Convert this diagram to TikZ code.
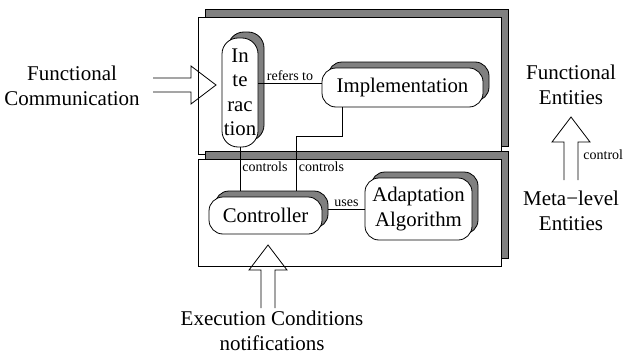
\documentclass[tikz,border=0pt]{standalone}
\usepackage{fontspec}
\setmainfont{Liberation Serif}
\usetikzlibrary{shadows}

\tikzset{
  % outer level boxes
  levelbox/.style={draw, fill=white, inner sep=0pt,
    copy shadow={shadow xshift=7pt, shadow yshift=8pt, fill=gray, draw=black}},
  % rounded entity boxes
  entity/.style={draw, fill=white, rounded corners=14pt, inner sep=0pt, align=center,
    font=\fontsize{20.8}{24.5}\selectfont,
    copy shadow={shadow xshift=6pt, shadow yshift=6pt, fill=gray, draw=black}},
  lbl/.style={font=\fontsize{14}{16}\selectfont, inner sep=2pt},
  txt/.style={font=\fontsize{21}{24.5}\selectfont, align=center},
  hollow arrow/.pic={
    \draw (-63,-7) -- (-25,-7) -- (-25,-19) -- (0,0) -- (-25,19) -- (-25,7) -- (-63,7);
  }
}

\begin{document}
\begin{tikzpicture}[x=1pt, y=-1pt, line width=0.8pt]
  \useasboundingbox (0,0) rectangle (637,356);

  % the two levels
  \node[levelbox, minimum width=303pt, minimum height=137pt] (upper) at (349.5,85.5) {};
  \node[levelbox, minimum width=303pt, minimum height=107pt] (lower) at (349.5,212.5) {};

  % entities
  \node[entity, rounded corners=16pt, minimum width=36pt, minimum height=109pt] (inter) at (240,92.5) {In\\te\\rac\\tion};
  \node[entity, minimum width=161pt, minimum height=39pt] (impl) at (402.5,87.5) {Implementation};
  \node[entity, minimum width=113pt, minimum height=37pt] (ctrl) at (265.5,215.5) {Controller};
  \node[entity, minimum width=107pt, minimum height=62pt] (adapt) at (418.5,209) {Adaptation\\Algorithm};

  % relations
  \draw ([yshift=4pt]inter.east |- impl.west) -- node[lbl, above] {refers to} ([yshift=4pt]impl.west);
  \draw (inter.south) -- node[lbl, right, pos=0.45] {controls} ([yshift=6pt]inter.south |- ctrl.north);
  \draw ([xshift=-60.5pt]impl.south) -- ++(0,29) -| node[lbl, right, pos=0.78] {controls} ([xshift=31pt, yshift=6pt]ctrl.north);
  \draw ([xshift=6pt]ctrl.east |- adapt.west) -- node[lbl, above] {uses} (adapt.west);

  % outside
  \node[txt] (fc) at (72,86) {Functional\\Communication};
  \node[txt] (fe) at (571,85) {Functional\\Entities};
  \node[txt] (ml) at (571,211) {Meta−level\\Entities};
  \node[txt] (ec) at (272,331) {Execution Conditions\\notifications};
  \node[lbl, anchor=west] (ctl) at (581,155) {control};

  % hollow arrows
  \pic at (216,85) {hollow arrow};
  \pic[rotate=90] at (268,245) {hollow arrow};
  \pic[rotate=90] at (571,117) {hollow arrow};
\end{tikzpicture}
\end{document}
